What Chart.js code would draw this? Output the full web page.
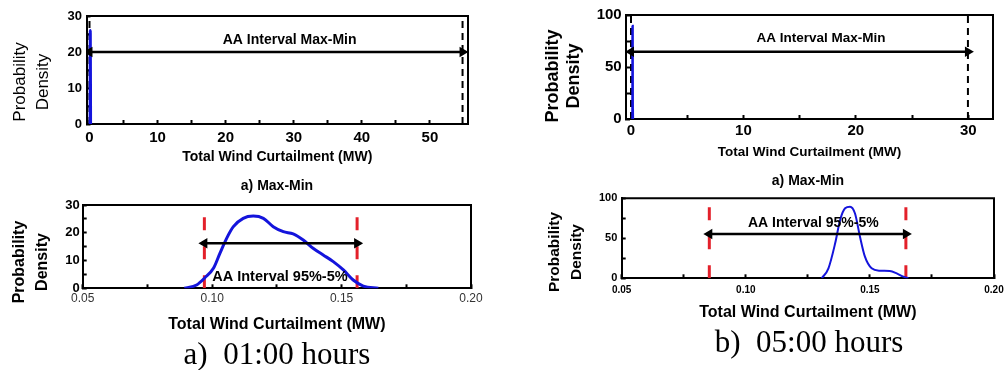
<!DOCTYPE html>
<html>
<head>
<meta charset="utf-8">
<script src="https://cdn.jsdelivr.net/npm/chart.js@4"></script>
<style>
  body { margin: 0; width: 1007px; height: 370px; background: #fff; position: relative; overflow: hidden;
         font-family: "Liberation Sans", Arial, sans-serif; color: #000; }
  canvas { position: absolute; }
  .lbl { position: absolute; white-space: pre; transform: translate(-50%, -50%); }
  .yt { position: absolute; white-space: pre; text-align: center; transform: translate(-50%, -50%) rotate(-90deg); }
  .cap { position: absolute; white-space: pre; transform: translate(-50%, -50%); font-family: "Liberation Serif", "Times New Roman", serif; }
</style>
</head>
<body>
<canvas id="c1" width="480" height="172" style="left:0;top:0"></canvas>
<canvas id="c2" width="487" height="166" style="left:520px;top:0"></canvas>
<canvas id="c3" width="490" height="150" style="left:0;top:190px"></canvas>
<canvas id="c4" width="487" height="140" style="left:520px;top:186px"></canvas>

<div class="yt" style="left:31px;top:82px;font-size:17px;line-height:23px">Probability
Density</div>
<div class="yt" style="left:563px;top:76px;font-size:18px;line-height:21px;font-weight:bold">Probability
Density</div>
<div class="yt" style="left:30px;top:262px;font-size:16px;line-height:23px;font-weight:bold">Probability
Density</div>
<div class="yt" style="left:565px;top:252px;font-size:15.5px;line-height:22px;font-weight:bold">Probability
Density</div>

<div class="lbl" style="left:277px;top:185px;font-size:14px;font-weight:bold">a) Max-Min</div>
<div class="lbl" style="left:808px;top:180px;font-size:14px;font-weight:bold">a) Max-Min</div>
<div class="cap" style="left:277px;top:354px;font-size:31px">a)  01:00 hours</div>
<div class="cap" style="left:809px;top:342px;font-size:31px">b)  05:00 hours</div>

<script>
// 01:00 hours - density of total wind curtailment
const wc01 = [0.0893, 0.094, 0.0972, 0.1005, 0.103, 0.1056, 0.1082, 0.112, 0.1159, 0.1198, 0.1236, 0.1275,
              0.1313, 0.1352, 0.139, 0.1429, 0.1468, 0.1507, 0.1545, 0.1584, 0.1642];
const pd01 = [0, 1.2, 3.8, 7.2, 12.6, 18, 22.2, 25.2, 26, 25.2, 22.2, 20.4,
              19.6, 17.4, 14.4, 12, 9.6, 6.6, 3, 0.8, 0];
// 05:00 hours
const wc05 = [0.1306, 0.1333, 0.136, 0.138, 0.14, 0.142, 0.144, 0.146, 0.148, 0.1507, 0.154, 0.158, 0.1608, 0.1635, 0.1655];
const pd05 = [0, 12.5, 43.7, 72.9, 87.5, 89.5, 81, 52, 27, 12.5, 9.5, 9.1, 6.2, 2, 0];

// intervals [low, high] and arrow height
const maxMin01 = [0, 54.8];   const maxMinY01 = 20;
const maxMin05 = [0, 29.97];  const maxMinY05 = 64.7;
const aa01 = [0.097, 0.156];  const aaY01 = 16.2;
const aa05 = [0.0853, 0.1645]; const aaY05 = 55.4;

// ticks (empty label = minor tick)
const xTicksA = [0, 5, 10, 15, 20, 25, 30, 35, 40, 45, 50];
const xLabelsA = ['0', '', '10', '', '20', '', '30', '', '40', '', '50'];
const xTicksB = [0, 5, 10, 15, 20, 25, 30];
const xLabelsB = ['0', '', '10', '', '20', '', '30'];
const xTicksC = [0.05, 0.075, 0.10, 0.125, 0.15, 0.175, 0.20];
const xLabelsC = ['0.05', '', '0.10', '', '0.15', '', '0.20'];
const yTicks30 = [0, 5, 10, 15, 20, 25, 30];
const yLabels30 = ['0', '', '10', '', '20', '', '30'];
const yTicks100 = [0, 25, 50, 75, 100];
const yLabels100 = ['0', '', '50', '', '100'];

const FONT = '"Liberation Sans", Arial, sans-serif';
const BLUE = '#1414dc';
const RED = '#e3202a';

const notePlugin = {
  id: 'note',
  afterDatasetsDraw(chart, args, opts) {
    const {ctx, chartArea: a, scales: {x, y}} = chart;
    ctx.save();
    ctx.strokeStyle = '#000';
    ctx.lineWidth = 2;
    ctx.beginPath();
    ctx.moveTo(a.left, a.top); ctx.lineTo(a.right, a.top); ctx.lineTo(a.right, a.bottom);
    ctx.stroke();
    ctx.font = opts.font;
    ctx.fillStyle = '#000';
    ctx.textAlign = 'center';
    ctx.textBaseline = 'middle';
    ctx.fillText(opts.text, x.getPixelForValue(opts.x), y.getPixelForValue(opts.y));
    ctx.restore();
  }
};

function pts(xs, ys) { return xs.map((v, i) => ({x: v, y: ys[i]})); }

function vline(v, top, color, width, dash) {
  return {data: [{x: v, y: 0}, {x: v, y: top}], borderColor: color, borderWidth: width,
          borderDash: dash, pointRadius: 0, order: 2};
}

function arrow(lim, yv) {
  return {data: [{x: lim[0], y: yv}, {x: lim[1], y: yv}], borderColor: '#000', borderWidth: 2.5,
          pointStyle: 'triangle', pointRotation: [270, 90], pointRadius: 3.5,
          pointBackgroundColor: '#000', pointBorderColor: '#000', order: 0};
}

function build(id, c) {
  new Chart(document.getElementById(id), {
    type: 'line',
    data: {
      datasets: [
        {data: pts(c.xs, c.ys), borderColor: BLUE, borderWidth: c.curveW, pointRadius: 0,
         cubicInterpolationMode: 'monotone', order: 1},
        vline(c.lim[0], c.ymax, c.dashColor, c.dashW, c.dash),
        vline(c.lim[1], c.ymax, c.dashColor, c.dashW, c.dash),
        arrow(c.lim, c.arrowY)
      ]
    },
    options: {
      responsive: false,
      animation: false,
      layout: {padding: {top: c.padTop, right: c.padRight, left: 0, bottom: 0}},
      plugins: {
        legend: {display: false},
        tooltip: {enabled: false},
        note: {text: c.note, x: c.noteX, y: c.noteY, font: c.noteFont}
      },
      scales: {
        x: {
          type: 'linear', min: c.xmin, max: c.xmax,
          afterBuildTicks: s => { s.ticks = c.xTicks.map(v => ({value: v})); },
          afterFit: s => { s.height = c.xH; s.paddingLeft = 0; s.paddingRight = 0; },
          ticks: {callback: (v, i) => c.xLabels[i], font: c.xTickFont, color: c.xTickColor || '#000',
                  padding: c.xTickPad, maxRotation: 0, autoSkip: false},
          grid: {drawOnChartArea: false, tickLength: -4, tickColor: '#000', tickWidth: 2},
          border: {color: '#000', width: 2},
          title: {display: true, text: 'Total Wind Curtailment (MW)', color: '#000',
                  font: c.xTitleFont, padding: {top: 0, bottom: c.xTitlePad}}
        },
        y: {
          min: 0, max: c.ymax,
          afterBuildTicks: s => { s.ticks = c.yTicks.map(v => ({value: v})); },
          afterFit: s => { s.width = c.yW; s.paddingTop = 0; s.paddingBottom = 0; },
          ticks: {callback: (v, i) => c.yLabels[i], font: c.yTickFont, color: '#000',
                  padding: c.yTickPad, autoSkip: false},
          grid: {drawOnChartArea: false, tickLength: -4, tickColor: '#000', tickWidth: 2},
          border: {color: '#000', width: 2}
        }
      }
    },
    plugins: [notePlugin]
  });
}

build('c1', {
  xs: wc01, ys: pd01, curveW: 3, lim: maxMin01, arrowY: maxMinY01,
  dashColor: '#000', dashW: 2, dash: [7, 5],
  xmin: -0.44, xmax: 55.6, ymax: 30,
  xTicks: xTicksA, xLabels: xLabelsA, yTicks: yTicks30, yLabels: yLabels30,
  padTop: 16, padRight: 12, xH: 48, yW: 86.5,
  xTickFont: {family: FONT, size: 15, weight: 'bold'}, xTickPad: 8.5,
  yTickFont: {family: FONT, size: 13, weight: 'bold'}, yTickPad: 8.5,
  xTitleFont: {family: FONT, size: 14, weight: 'bold'}, xTitlePad: 6.6,
  note: 'AA Interval Max-Min', noteX: 29.4, noteY: 23.3, noteFont: 'bold 14px ' + FONT
});

build('c2', {
  xs: wc05, ys: pd05, curveW: 2.5, lim: maxMin05, arrowY: maxMinY05,
  dashColor: '#000', dashW: 2, dash: [7, 5],
  xmin: -0.445, xmax: 32.2, ymax: 100,
  xTicks: xTicksB, xLabels: xLabelsB, yTicks: yTicks100, yLabels: yLabels100,
  padTop: 15, padRight: 14, xH: 47, yW: 106,
  xTickFont: {family: FONT, size: 15, weight: 'bold'}, xTickPad: 7,
  yTickFont: {family: FONT, size: 15, weight: 'bold'}, yTickPad: 8.3,
  xTitleFont: {family: FONT, size: 13.5, weight: 'bold'}, xTitlePad: 5.9,
  note: 'AA Interval Max-Min', noteX: 16.9, noteY: 77.6, noteFont: 'bold 13.5px ' + FONT
});

build('c3', {
  xs: wc01, ys: pd01, curveW: 3, lim: aa01, arrowY: aaY01,
  dashColor: RED, dashW: 3, dash: [13, 16],
  xmin: 0.05, xmax: 0.20, ymax: 30,
  xTicks: xTicksC, xLabels: xLabelsC, yTicks: yTicks30, yLabels: yLabels30,
  padTop: 15, padRight: 19, xH: 51.7, yW: 82.7,
  xTickFont: {family: FONT, size: 12}, xTickColor: '#333', xTickPad: 7.5,
  yTickFont: {family: FONT, size: 13, weight: 'bold'}, yTickPad: 7,
  xTitleFont: {family: FONT, size: 16, weight: 'bold'}, xTitlePad: 5.4,
  note: 'AA Interval 95%-5%', noteX: 0.1262, noteY: 4.2, noteFont: 'bold 14.5px ' + FONT
});

build('c4', {
  xs: wc05, ys: pd05, curveW: 2, lim: aa05, arrowY: aaY05,
  dashColor: RED, dashW: 3, dash: [13, 16],
  xmin: 0.05, xmax: 0.20, ymax: 100,
  xTicks: xTicksC, xLabels: xLabelsC, yTicks: yTicks100, yLabels: yLabels100,
  padTop: 12.3, padRight: 13, xH: 47.7, yW: 101.7,
  xTickFont: {family: FONT, size: 10, weight: 'bold'}, xTickPad: 9.7,
  yTickFont: {family: FONT, size: 11, weight: 'bold'}, yTickPad: 8.4,
  xTitleFont: {family: FONT, size: 16, weight: 'bold'}, xTitlePad: 3.4,
  note: 'AA Interval 95%-5%', noteX: 0.1272, noteY: 69.5, noteFont: 'bold 14px ' + FONT
});
</script>
</body>
</html>
